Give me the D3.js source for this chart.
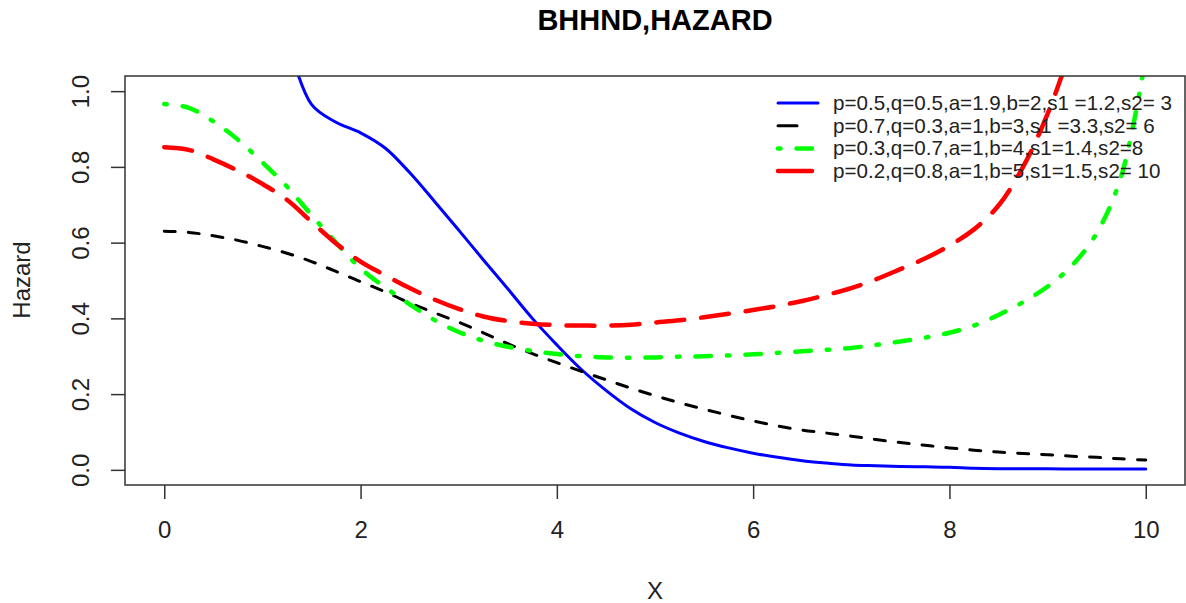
<!DOCTYPE html>
<html>
<head>
<meta charset="utf-8">
<script src="https://cdn.jsdelivr.net/npm/d3@7"></script>
<style>
  body { margin: 0; background: #fff; }
  svg { display: block; font-family: "Liberation Sans", Arial, sans-serif; }
</style>
</head>
<body>
<svg width="1186" height="603"></svg>
<script>
// x grid the curves were read at
var xGrid = [0, 0.25, 0.5, 0.75, 1, 1.25, 1.5, 1.75, 2, 2.25, 2.5, 2.75, 3, 3.25, 3.5, 3.75,
  4, 4.25, 4.5, 4.75, 5, 5.25, 5.5, 5.75, 6, 6.25, 6.5, 6.75, 7, 7.25, 7.5, 7.75,
  8, 8.25, 8.5, 8.75, 9, 9.25, 9.5, 9.75, 10];

// hazard values (null = off the top of the plot)
var blueHaz = [null, null, null, null, null, 1.14, 0.965, 0.918, 0.89, 0.85, 0.785, 0.71, 0.633, 0.555, 0.478, 0.40,
  0.33, 0.265, 0.21, 0.162, 0.125, 0.097, 0.075, 0.058, 0.044, 0.033, 0.024, 0.018, 0.013, 0.011, 0.009, 0.008,
  0.007, 0.004, 0.003, 0.003, 0.003, 0.002, 0.002, 0.002, 0.002];
var blackHaz = [0.63, 0.627, 0.618, 0.606, 0.59, 0.572, 0.55, 0.524, 0.497, 0.47, 0.441, 0.415, 0.39, 0.362, 0.333, 0.307,
  0.283, 0.26, 0.238, 0.216, 0.196, 0.177, 0.16, 0.144, 0.129, 0.116, 0.105, 0.097, 0.089, 0.08, 0.072, 0.065,
  0.058, 0.052, 0.047, 0.043, 0.04, 0.036, 0.033, 0.029, 0.026];
var greenHaz = [0.966, 0.956, 0.92, 0.872, 0.812, 0.748, 0.673, 0.6, 0.532, 0.482, 0.437, 0.396, 0.364, 0.341, 0.325, 0.314,
  0.306, 0.3, 0.297, 0.296, 0.297, 0.299, 0.3, 0.302, 0.305, 0.309, 0.313, 0.317, 0.322, 0.33, 0.339, 0.349,
  0.362, 0.381, 0.409, 0.443, 0.484, 0.54, 0.625, 0.775, 1.09];
var redHaz = [0.852, 0.845, 0.82, 0.79, 0.755, 0.713, 0.655, 0.598, 0.55, 0.514, 0.48, 0.45, 0.425, 0.405, 0.393, 0.386,
  0.382, 0.381, 0.381, 0.383, 0.389, 0.395, 0.403, 0.412, 0.422, 0.433, 0.446, 0.462, 0.48, 0.503, 0.53, 0.558,
  0.592, 0.635, 0.698, 0.8, 0.94, 1.12, null, null, null];

var legendLabels = [
  "p=0.5,q=0.5,a=1.9,b=2,s1 =1.2,s2= 3",
  "p=0.7,q=0.3,a=1,b=3,s1 =3.3,s2= 6",
  "p=0.3,q=0.7,a=1,b=4,s1=1.4,s2=8",
  "p=0.2,q=0.8,a=1,b=5,s1=1.5,s2= 10"
];
var xTicks = [0, 2, 4, 6, 8, 10];
var yTicks = [0, 0.2, 0.4, 0.6, 0.8, 1.0];

var series = [
  { vals: blueHaz,  color: "#0000ff", width: 3,   dash: null,             legDash: null },
  { vals: blackHaz, color: "#000000", width: 3,   dash: "11,13",          legDash: "19,30" },
  { vals: greenHaz, color: "#00ff00", width: 4.5, dash: "2.5,16,15.5,16", legDash: "2.5,16,15.5,16" },
  { vals: redHaz,   color: "#ff0000", width: 4.5, dash: "28,17",          legDash: "34,20" }
];

var svg = d3.select("svg"),
    plotL = 125, plotR = 1185, plotT = 76, plotB = 485;

// R style 4% padding round the data range
var xScale = d3.scaleLinear().domain([-0.4, 10.4]).range([plotL, plotR]),
    yScale = d3.scaleLinear().domain([-0.04, 1.04]).range([plotB, plotT]);

svg.append("defs").append("clipPath").attr("id", "plotclip")
  .append("rect")
  .attr("x", plotL).attr("y", plotT)
  .attr("width", plotR - plotL).attr("height", plotB - plotT);

var line = d3.line()
  .defined(function(d) { return d[1] != null; })
  .x(function(d) { return xScale(d[0]); })
  .y(function(d) { return yScale(d[1]); })
  .curve(d3.curveCatmullRom.alpha(0.5));

var g = svg.append("g").attr("clip-path", "url(#plotclip)");

series.forEach(function(s) {
  var pts = xGrid.map(function(x, i) { return [x, s.vals[i]]; });
  g.append("path")
    .datum(pts)
    .attr("d", line)
    .attr("fill", "none")
    .attr("stroke", s.color)
    .attr("stroke-width", s.width)
    .attr("stroke-linecap", "round")
    .attr("stroke-dasharray", s.dash);
});

// bottom axis
var xAxis = svg.append("g")
  .attr("transform", "translate(0," + plotB + ")")
  .call(d3.axisBottom(xScale).tickValues(xTicks).tickSize(14).tickPadding(22).tickFormat(d3.format("d")));
xAxis.select(".domain").remove();
xAxis.selectAll("line").attr("stroke", "#333").attr("stroke-width", 1.5);
xAxis.selectAll("text").attr("font-size", "24px").attr("fill", "#222")
  .attr("font-family", "'Liberation Sans', Arial, sans-serif");

// left axis, labels turned like R does
var yAxis = svg.append("g")
  .attr("transform", "translate(" + plotL + ",0)")
  .call(d3.axisLeft(yScale).tickValues(yTicks).tickSize(14).tickFormat(d3.format(".1f")));
yAxis.select(".domain").remove();
yAxis.selectAll("line").attr("stroke", "#333").attr("stroke-width", 1.5);
yAxis.selectAll("text")
  .attr("x", null).attr("dy", null)
  .attr("text-anchor", "middle")
  .attr("transform", "translate(-36,0) rotate(-90)")
  .attr("font-size", "24px").attr("fill", "#222")
  .attr("font-family", "'Liberation Sans', Arial, sans-serif");

// plot box
svg.append("rect")
  .attr("x", plotL).attr("y", plotT)
  .attr("width", plotR - plotL).attr("height", plotB - plotT)
  .attr("fill", "none")
  .attr("stroke", "#333")
  .attr("stroke-width", 1.5);

svg.append("text")
  .attr("x", 655).attr("y", 30)
  .attr("text-anchor", "middle")
  .attr("font-size", "29px")
  .attr("font-weight", "bold")
  .text("BHHND,HAZARD");

svg.append("text")
  .attr("x", 655).attr("y", 599)
  .attr("text-anchor", "middle")
  .attr("font-size", "24px")
  .attr("fill", "#222")
  .text("X");

svg.append("text")
  .attr("transform", "translate(30,280) rotate(-90)")
  .attr("text-anchor", "middle")
  .attr("font-size", "24px")
  .attr("fill", "#222")
  .text("Hazard");

// legend, no box
var leg = svg.append("g");
series.forEach(function(s, i) {
  var y = 103 + i * 22.7;
  leg.append("line")
    .attr("x1", 778).attr("x2", 818)
    .attr("y1", y).attr("y2", y)
    .attr("stroke", s.color)
    .attr("stroke-width", s.width)
    .attr("stroke-linecap", "round")
    .attr("stroke-dasharray", s.legDash);
  leg.append("text")
    .attr("x", 833).attr("y", y + 7)
    .attr("font-size", "20.6px")
    .attr("fill", "#222")
    .text(legendLabels[i]);
});
</script>
</body>
</html>
